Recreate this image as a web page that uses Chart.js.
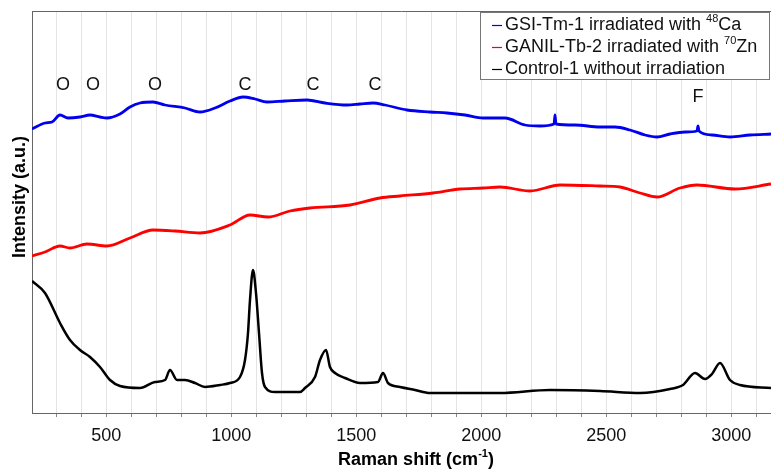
<!DOCTYPE html>
<html>
<head>
<meta charset="utf-8">
<script src="https://cdn.jsdelivr.net/npm/chart.js@4.4.0/dist/chart.umd.min.js"></script>
<style>
  html, body { margin: 0; padding: 0; background: #fff; overflow: hidden; }
  canvas { display: block; }
</style>
</head>
<body>
<canvas id="raman" width="771" height="470"></canvas>
<script>
// Raman shift (cm-1) and intensity (a.u.) for each sample
const tmShift = [203, 255, 283, 315, 347, 395, 435, 475, 503, 555, 595, 635, 687, 735, 815, 875, 935, 995, 1047, 1095,
  1143, 1215, 1303, 1375, 1463, 1515, 1567, 1615, 1703, 1795, 1863, 1935, 2007, 2095, 2175, 2235, 2291, 2295, 2299, 2375,
  2475, 2535, 2595, 2655, 2703, 2755, 2815, 2863, 2867, 2871, 2923, 2995, 3075, 3159];
const tmIntensity = [284, 290, 291, 298, 295, 296, 298, 296, 295, 299, 306, 310, 311, 308, 305, 301, 305, 312, 316, 314,
  311, 312, 313, 310, 308, 309, 310, 308, 303, 301, 300, 298, 295, 295, 288, 287, 289, 298, 289, 288,
  286, 286, 283, 278, 276, 279, 281, 282, 287, 282, 278, 276, 278, 279];

const tbShift = [203, 255, 315, 355, 423, 503, 595, 687, 775, 875, 995, 1075, 1147, 1235, 1315, 1475, 1595, 1675, 1807, 1915,
  2007, 2075, 2195, 2315, 2475, 2555, 2635, 2703, 2795, 2863, 3015, 3159];
const tbIntensity = [157, 161, 167, 165, 169, 167, 175, 183, 182, 180, 188, 198, 196, 202, 205, 208, 215, 217, 220, 224,
  225, 226, 222, 228, 227, 226, 220, 216, 225, 228, 224, 229];

const controlShift = [203, 255, 315, 355, 395, 435, 475, 515, 555, 635, 695, 735, 755, 783, 815, 855, 895, 955, 995, 1035,
  1055, 1067, 1075, 1087, 1099, 1111, 1123, 1135, 1175, 1275, 1295, 1335, 1355, 1379, 1395, 1415, 1455, 1515, 1587, 1607,
  1627, 1675, 1735, 1795, 2075, 2275, 2475, 2635, 2755, 2807, 2855, 2895, 2923, 2955, 2995, 3035, 3159];
const controlIntensity = [132, 120, 90, 73, 63, 56, 46, 33, 27, 25, 31, 33, 43, 33, 33, 30, 26, 28, 30, 36,
  53, 80, 113, 143, 120, 80, 40, 26, 21, 21, 25, 36, 53, 63, 46, 40, 35, 30, 31, 40,
  30, 26, 23, 20, 20, 23, 22, 20, 24, 28, 40, 34, 39, 50, 33, 28, 25];

const seriesLabels = ['GSI-Tm-1 irradiated with \u2074\u2078Ca', 'GANIL-Tb-2 irradiated with \u2077\u2070Zn', 'Control-1 without irradiation'];
const seriesColors = ['#0000ee', '#ff0000', '#000000'];

// x axis: a grid line every 100 cm-1, labels every 500
const xTicks = [300, 400, 500, 600, 700, 800, 900, 1000, 1100, 1200, 1300, 1400, 1500, 1600, 1700, 1800, 1900, 2000,
  2100, 2200, 2300, 2400, 2500, 2600, 2700, 2800, 2900, 3000, 3100];
const xLabelled = [500, 1000, 1500, 2000, 2500, 3000];

// band assignments written above the spectra
const bandLetters = ['O', 'O', 'O', 'C', 'C', 'C', 'F'];
const bandShift = [327, 447, 695, 1055, 1327, 1575, 2867];
const bandHeight = [328, 328, 328, 328, 328, 328, 316];

const FONT = '"Liberation Sans", Arial, sans-serif';
const SUPER = { '\u2070': '0', '\u00B9': '1', '\u2074': '4', '\u2077': '7', '\u2078': '8', '\u207B': '-' };

function toPoints(xs, ys) {
  return xs.map((x, i) => ({ x: x, y: ys[i] }));
}

// split a label into normal and superscript runs
function textRuns(str) {
  const runs = [];
  for (const ch of str) {
    const sup = ch in SUPER;
    const last = runs[runs.length - 1];
    if (last && last.sup === sup) last.t += sup ? SUPER[ch] : ch;
    else runs.push({ t: sup ? SUPER[ch] : ch, sup });
  }
  return runs;
}

// draws text left-aligned at (x, y middle), superscripts smaller and raised
function drawRich(ctx, str, x, y, size, weight, align) {
  const runs = textRuns(str);
  const fontOf = (r) => weight + ' ' + (r.sup ? Math.round(size * 0.62) : size) + 'px ' + FONT;
  let total = 0;
  runs.forEach(r => { ctx.font = fontOf(r); r.w = ctx.measureText(r.t).width; total += r.w; });
  let cx = align === 'center' ? x - total / 2 : x;
  ctx.textAlign = 'left';
  ctx.textBaseline = 'middle';
  runs.forEach(r => {
    ctx.font = fontOf(r);
    ctx.fillText(r.t, cx, r.sup ? y - size * 0.32 : y);
    cx += r.w;
  });
}

const ramanDecor = {
  id: 'ramanDecor',
  afterDraw(chart) {
    const ctx = chart.ctx;
    const area = chart.chartArea;
    const xs = chart.scales.x;
    const ys = chart.scales.y;
    ctx.save();

    // top frame line
    ctx.strokeStyle = '#666';
    ctx.lineWidth = 1;
    ctx.beginPath();
    ctx.moveTo(area.left, area.top + 0.5);
    ctx.lineTo(area.right, area.top + 0.5);
    ctx.stroke();

    // band letters
    ctx.fillStyle = '#111';
    ctx.font = '18px ' + FONT;
    ctx.textAlign = 'center';
    ctx.textBaseline = 'middle';
    bandLetters.forEach((t, i) => {
      ctx.fillText(t, xs.getPixelForValue(bandShift[i]), ys.getPixelForValue(bandHeight[i]));
    });

    // legend box
    const bx = 480.5, by = 12.5, bw = 289, bh = 67;
    ctx.fillStyle = '#fff';
    ctx.fillRect(bx, by, bw, bh);
    ctx.strokeStyle = '#777';
    ctx.strokeRect(bx, by, bw, bh);
    chart.data.datasets.forEach((ds, i) => {
      const cy = 25 + i * 22;
      ctx.strokeStyle = ds.borderColor;
      ctx.lineWidth = 1.2;
      ctx.beginPath();
      ctx.moveTo(492, cy + 0.5);
      ctx.lineTo(502, cy + 0.5);
      ctx.stroke();
      ctx.fillStyle = '#111';
      drawRich(ctx, ds.label, 505, cy, 18, 'normal', 'left');
    });

    // axis titles
    ctx.fillStyle = '#000';
    drawRich(ctx, 'Raman shift (cm\u207B\u00B9)', 416, 460, 18, 'bold', 'center');
    ctx.translate(20, 197);
    ctx.rotate(-Math.PI / 2);
    drawRich(ctx, 'Intensity (a.u.)', 0, 0, 18, 'bold', 'center');
    ctx.restore();
  }
};

const ctx = document.getElementById('raman').getContext('2d');
const datasets = [
  { label: seriesLabels[0], data: toPoints(tmShift, tmIntensity), borderColor: seriesColors[0], borderWidth: 2.8 },
  { label: seriesLabels[1], data: toPoints(tbShift, tbIntensity), borderColor: seriesColors[1], borderWidth: 2.8 },
  { label: seriesLabels[2], data: toPoints(controlShift, controlIntensity), borderColor: seriesColors[2], borderWidth: 2.5 }
];

new Chart(ctx, {
  type: 'line',
  data: { datasets },
  options: {
    responsive: false,
    animation: false,
    layout: { padding: { top: 11, right: 0, bottom: 0, left: 0 } },
    elements: {
      point: { radius: 0 },
      line: { fill: false, cubicInterpolationMode: 'monotone' }
    },
    plugins: {
      legend: { display: false },
      tooltip: { enabled: false }
    },
    scales: {
      x: {
        type: 'linear',
        min: 203,
        max: 3159,
        afterFit: (scale) => { scale.height = 57; },
        afterBuildTicks: (scale) => { scale.ticks = xTicks.map(v => ({ value: v })); },
        ticks: {
          autoSkip: false,
          maxRotation: 0,
          padding: 8,
          color: '#111',
          font: { family: FONT, size: 18 },
          callback: (value) => xLabelled.includes(value) ? String(value) : ''
        },
        grid: { color: '#e4e4e4', tickColor: '#888', tickLength: 4 },
        border: { color: '#666' }
      },
      y: {
        min: 0,
        max: 402,
        afterFit: (scale) => { scale.width = 32; },
        ticks: { display: false },
        grid: { display: false },
        border: { color: '#666' }
      }
    }
  },
  plugins: [ramanDecor]
});
</script>
</body>
</html>
